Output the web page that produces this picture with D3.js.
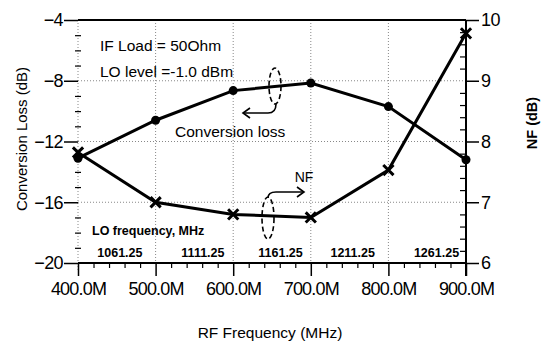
<!DOCTYPE html>
<html><head><meta charset="utf-8">
<script src="https://cdn.jsdelivr.net/npm/d3@7"></script>
<style>body{margin:0;background:#fff}svg{display:block}text{font-family:"Liberation Sans",Arial,sans-serif;fill:#000}</style>
</head><body><svg id="c" width="545" height="345"></svg>
<script>
const rfFreq = [400, 500, 600, 700, 800, 900];
const convLoss = [-13.1, -10.6, -8.65, -8.15, -9.7, -13.2];
const noiseFig = [7.82, 7.0, 6.8, 6.75, 7.53, 9.78];
const xTickVals = [400, 500, 600, 700, 800, 900];
const xTickLabels = ["400.0M", "500.0M", "600.0M", "700.0M", "800.0M", "900.0M"];
const leftTickVals = [-4, -8, -12, -16, -20];
const rightTickVals = [10, 9, 8, 7, 6];
const loFreqLabels = ["1061.25", "1111.25", "1161.25", "1211.25", "1261.25"];
const loFreqLabelAt = [454, 561, 661, 754, 862];

const svg = d3.select("#c");
const L = 78, R = 466, T = 20, B = 263;
const x = d3.scaleLinear().domain([400, 900]).range([L, R]);
const yL = d3.scaleLinear().domain([-20, -4]).range([B, T]);
const yR = d3.scaleLinear().domain([6, 10]).range([B, T]);

// grid
const grid = svg.append("g").attr("stroke", "#888").attr("stroke-width", 1).attr("stroke-dasharray", "1,2");
[-8, -12, -16].forEach(v => grid.append("line").attr("x1", L).attr("x2", R).attr("y1", yL(v)).attr("y2", yL(v)));
[500, 600, 700, 800].forEach(v => grid.append("line").attr("x1", x(v)).attr("x2", x(v)).attr("y1", T).attr("y2", B));
// left axis dotted line
grid.append("line").attr("x1", L).attr("x2", L).attr("y1", T).attr("y2", B + 8);

// frame lines
svg.append("line").attr("x1", L).attr("x2", R).attr("y1", T).attr("y2", T).attr("stroke", "#000").attr("stroke-width", 2);
svg.append("line").attr("x1", L).attr("x2", R).attr("y1", B).attr("y2", B).attr("stroke", "#000").attr("stroke-width", 2);
svg.append("line").attr("x1", R).attr("x2", R).attr("y1", T).attr("y2", B + 13).attr("stroke", "#000").attr("stroke-width", 2);

const tickFont = "18px";
// left axis
const gl = svg.append("g").attr("transform", `translate(${L},0)`)
  .call(d3.axisLeft(yL).tickValues(leftTickVals).tickSize(14).tickPadding(1).tickFormat(d => d3.format("d")(d).replace("-", "-")));
gl.select(".domain").remove();
gl.selectAll("line").attr("stroke-width", 1.5);
gl.selectAll("text").style("font-size", tickFont).style("letter-spacing", "-0.6px").attr("font-family", null);
const glm = svg.append("g").attr("transform", `translate(${L + 3},0)`)
  .call(d3.axisLeft(yL).tickValues(d3.range(-20, -3, 1).filter(v => v % 4 !== 0)).tickSize(6).tickFormat(""));
glm.select(".domain").remove();
glm.selectAll("line").attr("stroke-width", 1.2);

// right axis
const gr = svg.append("g").attr("transform", `translate(${R},0)`)
  .call(d3.axisRight(yR).tickValues(rightTickVals).tickSize(13).tickPadding(2).tickFormat(d3.format("d")));
gr.select(".domain").remove();
gr.selectAll("line").attr("stroke-width", 1.5);
gr.selectAll("text").style("font-size", tickFont).style("letter-spacing", "-0.6px").attr("font-family", null);
const grm = svg.append("g").attr("transform", `translate(${R},0)`)
  .call(d3.axisLeft(yR).tickValues(d3.range(6, 10.01, 0.2).filter(v => Math.abs(v - Math.round(v)) > 0.01)).tickSize(6).tickFormat(""));
grm.select(".domain").remove();
grm.selectAll("line").attr("stroke-width", 1.2);

// bottom axis
const gb = svg.append("g").attr("transform", `translate(0,${B})`)
  .call(d3.axisBottom(x).tickValues(xTickVals).tickSize(13).tickPadding(6).tickFormat((d, i) => xTickLabels[i]));
gb.select(".domain").remove();
gb.selectAll("line").attr("stroke-width", 1.5);
gb.selectAll("text").style("font-size", tickFont).style("letter-spacing", "-0.8px").attr("font-family", null);
const gbm = svg.append("g").attr("transform", `translate(0,${B - 1})`)
  .call(d3.axisBottom(x).tickValues(d3.range(400, 901, 20).filter(v => v % 100 !== 0)).tickSize(6).tickFormat(""));
gbm.select(".domain").remove();
gbm.selectAll("line").attr("stroke-width", 1.2);

// axis titles
svg.append("text").attr("transform", "translate(27,139) rotate(-90)").attr("text-anchor", "middle")
  .style("font-size", "15px").text("Conversion Loss (dB)");
svg.append("text").attr("transform", "translate(537,123) rotate(-90)").attr("text-anchor", "middle")
  .style("font-size", "14.5px").style("font-weight", "bold").text("NF (dB)");
svg.append("text").attr("x", 270).attr("y", 338).attr("text-anchor", "middle")
  .style("font-size", "15.5px").text("RF Frequency (MHz)");

// series
const lineCL = d3.line().x((d, i) => x(rfFreq[i])).y(d => yL(d));
const lineNF = d3.line().x((d, i) => x(rfFreq[i])).y(d => yR(d));
svg.append("path").attr("d", lineCL(convLoss)).attr("fill", "none").attr("stroke", "#000").attr("stroke-width", 3);
svg.append("path").attr("d", lineNF(noiseFig)).attr("fill", "none").attr("stroke", "#000").attr("stroke-width", 3);
svg.selectAll(".cm").data(convLoss).enter().append("circle")
  .attr("cx", (d, i) => x(rfFreq[i])).attr("cy", d => yL(d)).attr("r", 4.5).attr("fill", "#000");
svg.selectAll(".nm").data(noiseFig).enter().append("path")
  .attr("transform", (d, i) => `translate(${x(rfFreq[i])},${yR(d)})`)
  .attr("d", d3.symbol(d3.symbolTimes, 70)()).attr("fill", "none").attr("stroke", "#000").attr("stroke-width", 3);

// annotations
svg.append("text").attr("x", 100).attr("y", 51).style("font-size", "15.5px").text("IF Load = 50Ohm");
svg.append("text").attr("x", 100).attr("y", 77).style("font-size", "15.5px").text("LO level =-1.0 dBm");
svg.append("text").attr("x", 175).attr("y", 137).style("font-size", "15.5px").text("Conversion loss");
svg.append("text").attr("x", 304).attr("y", 182).attr("text-anchor", "middle").style("font-size", "14px").text("NF");
svg.append("text").attr("x", 92).attr("y", 235).style("font-size", "12.5px").style("font-weight", "bold").text("LO frequency,  MHz");
svg.selectAll(".lo").data(loFreqLabels).enter().append("text")
  .attr("x", (d, i) => x(loFreqLabelAt[i])).attr("y", 257).attr("text-anchor", "middle")
  .style("font-size", "12.5px").style("font-weight", "bold").text(d => d);

// ellipses + arrows
const ann = svg.append("g").attr("fill", "none").attr("stroke", "#000").attr("stroke-width", 1.6);
ann.append("ellipse").attr("cx", 275).attr("cy", 86).attr("rx", 6).attr("ry", 18).attr("stroke-dasharray", "5,3");
ann.append("path").attr("d", "M276,104 Q276,113 268,113 L243,113");
ann.append("path").attr("d", "M250,108 L243,113 L250,118");
ann.append("ellipse").attr("cx", 268).attr("cy", 218).attr("rx", 6).attr("ry", 21).attr("stroke-dasharray", "5,3");
ann.append("path").attr("d", "M268,198 Q268,192 276,192 L304,192");
ann.append("path").attr("d", "M297,187 L304,192 L297,197");
</script></body></html>
